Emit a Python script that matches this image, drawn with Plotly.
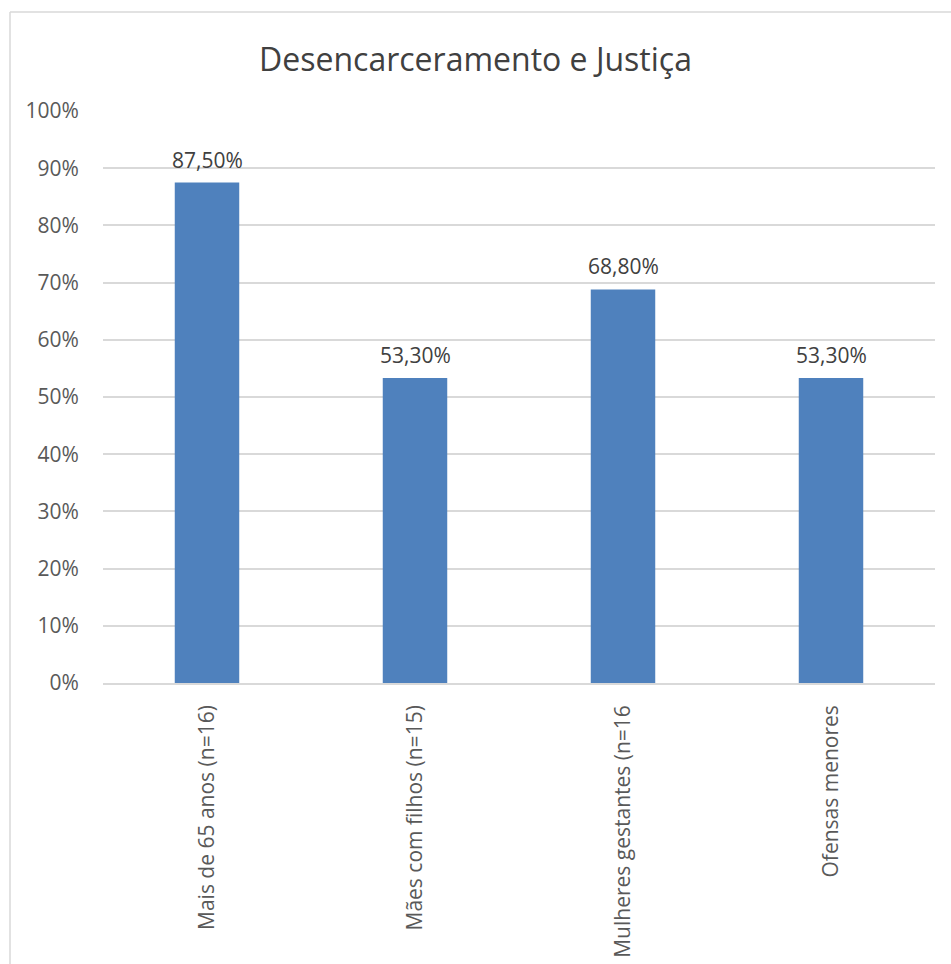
import plotly.graph_objects as go

categories = [
    "Mais de 65 anos (n=16)",
    "Mães com filhos (n=15)",
    "Mulheres gestantes (n=16",
    "Ofensas menores",
]
values = [0.875, 0.533, 0.688, 0.533]
value_labels = ["87,50%", "53,30%", "68,80%", "53,30%"]
y_ticks = [i / 10 for i in range(11)]
y_tick_labels = [f"{i * 10}%" for i in range(11)]

FONT = "Open Sans, Liberation Sans, sans-serif"
TEXT = "#595959"

fig = go.Figure(
    go.Bar(
        x=categories,
        y=values,
        marker=dict(color="#4F81BD", line=dict(width=0)),
        width=0.31,
    )
)

# value labels sitting above each bar
for cat, val, lab in zip(categories, values, value_labels):
    fig.add_annotation(
        x=cat, y=val, text=lab, showarrow=False,
        xanchor="center", yanchor="bottom", yshift=7,
        font=dict(size=21, color="#404040", family=FONT),
    )

fig.update_layout(
    width=951,
    height=964,
    margin=dict(l=103, r=16, t=111, b=281),
    paper_bgcolor="white",
    plot_bgcolor="white",
    showlegend=False,
    title=dict(
        text="Desencarceramento e Justiça",
        x=0.5,
        xanchor="center",
        y=1 - 60 / 964,
        yanchor="middle",
        font=dict(size=32, color="#404040", family=FONT),
    ),
    xaxis=dict(
        automargin=False,
        tickangle=-90,
        tickfont=dict(size=21, color=TEXT, family=FONT),
        showgrid=False,
        showline=True,
        linecolor="#D9D9D9",
        linewidth=1.5,
        ticks="outside",
        ticklen=12,
        tickcolor="rgba(255,255,255,0)",
    ),
    yaxis=dict(
        automargin=False,
        range=[0, 1.0],
        tickvals=y_ticks,
        ticktext=y_tick_labels,
        tickfont=dict(size=21, color=TEXT, family=FONT),
        showgrid=True,
        gridcolor="#D9D9D9",
        gridwidth=1.5,
        zeroline=False,
        showline=False,
        ticks="outside",
        ticklen=19,
        tickcolor="rgba(255,255,255,0)",
    ),
    shapes=[
        dict(
            type="line", xref="paper", yref="paper",
            x0=-93 / 832, x1=(951 - 103) / 832 + 0.01,
            y0=1 + 99 / 572, y1=1 + 99 / 572,
            line=dict(color="#D9D9D9", width=1.5),
        ),
        dict(
            type="line", xref="paper", yref="paper",
            x0=-93 / 832, x1=-93 / 832,
            y0=1 + 99 / 572, y1=-290 / 572,
            line=dict(color="#D9D9D9", width=1.5),
        ),
    ],
)

fig.write_html("out.html")
